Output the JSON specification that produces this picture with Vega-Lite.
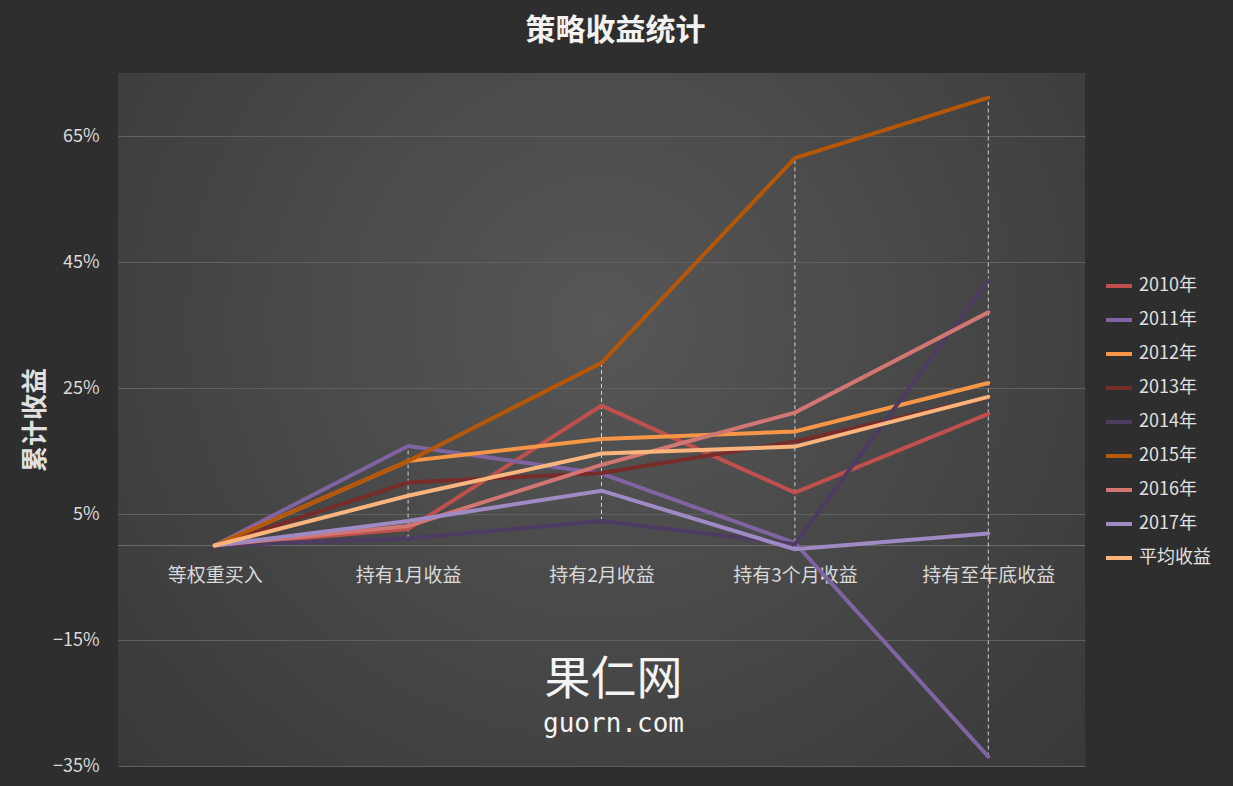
{
  "$schema": "https://vega.github.io/schema/vega-lite/v6.json",
  "width": 967,
  "height": 693,
  "autosize": {"type": "none"},
  "padding": {"left": 118, "top": 73, "right": 148, "bottom": 20},
  "background": "#2e2e2e",
  "title": {"text": "策略收益统计", "fontSize": 30, "font": "Noto Sans CJK SC", "fontWeight": "bold", "color": "#f2f2f2", "offset": 27, "dx": 14, "anchor": "middle"},
  "config": {
    "font": "Noto Sans CJK SC",
    "view": {"stroke": null, "fill": {"gradient": "radial", "x1": 0.5, "y1": 0.4, "x2": 0.5, "y2": 0.4, "r1": 0, "r2": 0.8, "stops": [{"offset": 0, "color": "#575757"}, {"offset": 1, "color": "#333333"}]}}
  },
  "data": {"values": [
    {"cat": "等权重买入", "series": "2010年", "v": 0},
    {"cat": "持有1月收益", "series": "2010年", "v": 0.026},
    {"cat": "持有2月收益", "series": "2010年", "v": 0.222},
    {"cat": "持有3个月收益", "series": "2010年", "v": 0.084},
    {"cat": "持有至年底收益", "series": "2010年", "v": 0.209},
    {"cat": "等权重买入", "series": "2011年", "v": 0},
    {"cat": "持有1月收益", "series": "2011年", "v": 0.158},
    {"cat": "持有2月收益", "series": "2011年", "v": 0.114},
    {"cat": "持有3个月收益", "series": "2011年", "v": 0.004},
    {"cat": "持有至年底收益", "series": "2011年", "v": -0.335},
    {"cat": "等权重买入", "series": "2012年", "v": 0},
    {"cat": "持有1月收益", "series": "2012年", "v": 0.134},
    {"cat": "持有2月收益", "series": "2012年", "v": 0.169},
    {"cat": "持有3个月收益", "series": "2012年", "v": 0.181},
    {"cat": "持有至年底收益", "series": "2012年", "v": 0.258},
    {"cat": "等权重买入", "series": "2013年", "v": 0},
    {"cat": "持有1月收益", "series": "2013年", "v": 0.100},
    {"cat": "持有2月收益", "series": "2013年", "v": 0.115},
    {"cat": "持有3个月收益", "series": "2013年", "v": 0.165},
    {"cat": "持有至年底收益", "series": "2013年", "v": 0.235},
    {"cat": "等权重买入", "series": "2014年", "v": 0},
    {"cat": "持有1月收益", "series": "2014年", "v": 0.011},
    {"cat": "持有2月收益", "series": "2014年", "v": 0.039},
    {"cat": "持有3个月收益", "series": "2014年", "v": 0.002},
    {"cat": "持有至年底收益", "series": "2014年", "v": 0.421},
    {"cat": "等权重买入", "series": "2015年", "v": 0},
    {"cat": "持有1月收益", "series": "2015年", "v": 0.134},
    {"cat": "持有2月收益", "series": "2015年", "v": 0.290},
    {"cat": "持有3个月收益", "series": "2015年", "v": 0.615},
    {"cat": "持有至年底收益", "series": "2015年", "v": 0.711},
    {"cat": "等权重买入", "series": "2016年", "v": 0},
    {"cat": "持有1月收益", "series": "2016年", "v": 0.031},
    {"cat": "持有2月收益", "series": "2016年", "v": 0.128},
    {"cat": "持有3个月收益", "series": "2016年", "v": 0.211},
    {"cat": "持有至年底收益", "series": "2016年", "v": 0.370},
    {"cat": "等权重买入", "series": "2017年", "v": 0},
    {"cat": "持有1月收益", "series": "2017年", "v": 0.039},
    {"cat": "持有2月收益", "series": "2017年", "v": 0.087},
    {"cat": "持有3个月收益", "series": "2017年", "v": -0.006},
    {"cat": "持有至年底收益", "series": "2017年", "v": 0.019},
    {"cat": "等权重买入", "series": "平均收益", "v": 0},
    {"cat": "持有1月收益", "series": "平均收益", "v": 0.079},
    {"cat": "持有2月收益", "series": "平均收益", "v": 0.146},
    {"cat": "持有3个月收益", "series": "平均收益", "v": 0.157},
    {"cat": "持有至年底收益", "series": "平均收益", "v": 0.236}
  ]},
  "layer": [
    {
      "data": {"values": [{"z": 0}]},
      "mark": {"type": "rule", "color": "#6a6a6a", "strokeWidth": 1},
      "encoding": {"y": {"field": "z", "type": "quantitative", "scale": {"domain": [-0.35, 0.75], "nice": false, "zero": false}}}
    },
    {
      "mark": {"type": "rule", "color": "#d0d0d0", "strokeWidth": 1, "strokeDash": [4, 3]},
      "encoding": {
        "x": {"field": "cat", "type": "nominal", "scale": {"type": "point", "padding": 0.5, "domain": ["等权重买入", "持有1月收益", "持有2月收益", "持有3个月收益", "持有至年底收益"]}},
        "y": {"aggregate": "min", "field": "v", "type": "quantitative"},
        "y2": {"aggregate": "max", "field": "v"}
      }
    },
    {
      "mark": {"type": "line", "strokeWidth": 4, "strokeCap": "round", "strokeJoin": "miter"},
      "encoding": {
        "x": {
          "field": "cat", "type": "nominal",
          "scale": {"type": "point", "padding": 0.5, "domain": ["等权重买入", "持有1月收益", "持有2月收益", "持有3个月收益", "持有至年底收益"]},
          "axis": {"orient": "bottom", "offset": -221, "domain": false, "ticks": false, "grid": false, "labelPadding": 30, "labelFontSize": 19, "labelColor": "#d9d9d9", "labelAngle": 0, "labelAlign": "center", "labelBaseline": "middle", "title": null}
        },
        "y": {
          "field": "v", "type": "quantitative",
          "scale": {"domain": [-0.35, 0.75], "nice": false, "zero": false},
          "axis": {"values": [-0.35, -0.15, 0.05, 0.25, 0.45, 0.65], "format": ".0%", "grid": true, "gridColor": "#606060", "gridWidth": 1, "domain": false, "ticks": false, "labelFontSize": 18, "labelColor": "#d9d9d9", "labelPadding": 19, "title": "累计收益", "titleFontSize": 26, "titleFontWeight": "bold", "titleColor": "#e0e0e0", "titleX": -83, "titleBaseline": "middle", "titleAngle": -90}
        },
        "color": {
          "field": "series", "type": "nominal",
          "scale": {"domain": ["2010年", "2011年", "2012年", "2013年", "2014年", "2015年", "2016年", "2017年", "平均收益"], "range": ["#C0504D", "#8064A2", "#F79646", "#772C2A", "#4D3B62", "#B65708", "#D27674", "#A08AC3", "#FAB47E"]},
          "legend": {"orient": "none", "legendX": 986, "legendY": 198, "title": null, "symbolType": "stroke", "symbolSize": 676, "symbolStrokeWidth": 4, "labelFontSize": 18, "labelColor": "#e0e0e0", "labelOffset": 5, "rowPadding": 10, "padding": 0}
        }
      }
    },
    {
      "data": {"values": [{"t": "果仁网", "c": "持有2月收益", "y": -0.213}]},
      "mark": {"type": "text", "fontSize": 46, "font": "Noto Sans CJK SC", "color": "#f4f4f4", "dx": 12, "baseline": "middle"},
      "encoding": {"x": {"field": "c", "type": "nominal"}, "y": {"field": "y", "type": "quantitative"}, "text": {"field": "t"}}
    },
    {
      "data": {"values": [{"t": "guorn.com", "c": "持有2月收益", "y": -0.284}]},
      "mark": {"type": "text", "fontSize": 26, "font": "DejaVu Sans Mono", "color": "#f4f4f4", "dx": 12, "baseline": "middle"},
      "encoding": {"x": {"field": "c", "type": "nominal"}, "y": {"field": "y", "type": "quantitative"}, "text": {"field": "t"}}
    }
  ]
}
